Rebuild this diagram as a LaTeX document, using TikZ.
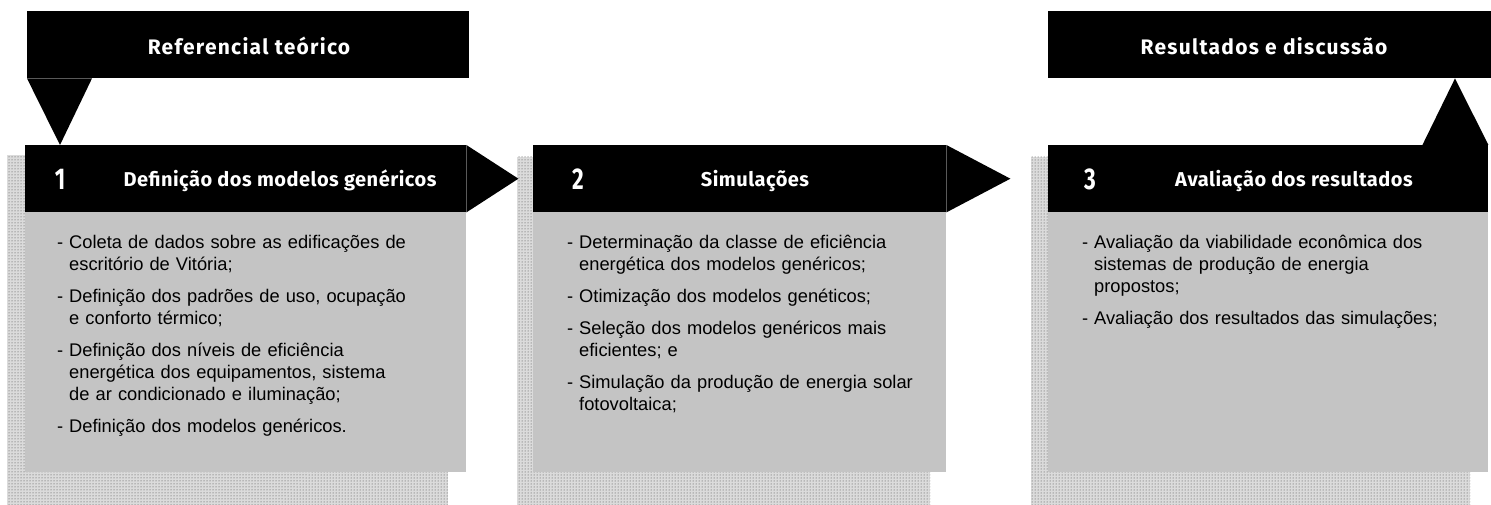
\documentclass[tikz,border=0pt]{standalone}
\usepackage{fontspec}
\setmainfont{Liberation Sans}
\newfontfamily\headfont[LetterSpace=2.5]{Fira Sans}
\newfontfamily\topfont[LetterSpace=6]{Fira Sans}
\newfontfamily\numfont[FakeStretch=0.75]{Fira Sans}
\usepackage{xcolor}
\usepackage{tikz}
\usetikzlibrary{positioning,calc,patterns}
\definecolor{boxgray}{RGB}{196,196,196}
\newcommand{\listitem}[1]{\hangindent=12pt\hangafter=1\noindent\makebox[12pt][l]{\rule{0pt}{16pt}-}#1\par}

\begin{document}
\begin{tikzpicture}[
    x=1pt,y=-1pt,
    headbar/.style={fill=black,minimum height=67pt,inner sep=0pt,anchor=north west},
    bodybox/.style={fill=boxgray,minimum height=260pt,inner sep=0pt,anchor=north west},
    shadow/.style={fill=black!14,postaction={pattern=dots,pattern color=black!75}},
    toptext/.style={text=white,anchor=base,inner sep=0pt,font=\topfont\bfseries\fontsize{21}{24}\selectfont},
    headtext/.style={text=white,anchor=base,inner sep=0pt,font=\headfont\bfseries\fontsize{20}{24}\selectfont},
    stepno/.style={text=white,anchor=base,inner sep=0pt,font=\numfont\bfseries\fontsize{30}{30}\selectfont},
    itemlist/.style={anchor=north west,inner sep=0pt,text width=420pt,align=left,
      font=\fontsize{18.3}{22}\selectfont\setlength{\parskip}{10pt}}
  ]
    \useasboundingbox (0,0) rectangle (1491,505);
    % dotted shadows behind the steps
    \fill[shadow] (7,155) rectangle (448,505);
    \fill[shadow] (517,157) rectangle (930,505);
    \fill[shadow] (1031,157) rectangle (1470,505);
    % grey bodies
    \node[bodybox,minimum width=441pt] (b1) at (25,212) {};
    \node[bodybox,minimum width=413pt] (b2) at (533,212) {};
    \node[bodybox,minimum width=440pt] (b3) at (1048,212) {};
    % black step bars
    \node[headbar,minimum width=441pt] (h1) at (25,145) {};
    \node[headbar,minimum width=413pt] (h2) at (533,145) {};
    \node[headbar,minimum width=440pt] (h3) at (1048,145) {};
    \fill (h1.north east) -- ($(h1.east)+(52,0)$) -- (h1.south east) -- cycle;
    \fill (h2.north east) -- ($(h2.east)+(64,0)$) -- (h2.south east) -- cycle;
    % top bars
    \node[headbar,minimum width=442pt] (ref) at (27,11) {};
    \node[headbar,minimum width=443pt] (res) at (1048,11) {};
    \fill (ref.south west) -- ++(65,0) -- ($(h1.north west)+(35,0)$) -- cycle;
    \fill ($(h3.north east)+(-66,0)$) -- ($(res.south west)+(407,0)$) -- (h3.north east) -- cycle;
    \node[toptext] (reftxt) at (249,55) {Referencial teórico};
    \node[toptext] (restxt) at (1264,55) {Resultados e discussão};
    % step titles
    \node[stepno] (n1) at (60,190) {1};
    \node[stepno] (n2) at (578,190) {2};
    \node[stepno] (n3) at (1090,190) {3};
    \node[headtext] (t1) at (280,187) {Definição dos modelos genéricos};
    \node[headtext] (t2) at (755,187) {Simulações};
    \node[headtext] (t3) at (1294,187) {Avaliação dos resultados};
    % step contents
    \node[itemlist] (l1) at (57,232) {%
      \listitem{Coleta de dados sobre as edificações de\newline escritório de Vitória;}
      \listitem{Definição dos padrões de uso, ocupação\newline e conforto térmico;}
      \listitem{Definição dos níveis de eficiência\newline energética dos equipamentos, sistema\newline de ar condicionado e iluminação;}
      \listitem{Definição dos modelos genéricos.}};
    \node[itemlist] (l2) at (567,232) {%
      \listitem{Determinação da classe de eficiência\newline energética dos modelos genéricos;}
      \listitem{Otimização dos modelos genéticos;}
      \listitem{Seleção dos modelos genéricos mais\newline eficientes; e}
      \listitem{Simulação da produção de energia solar\newline fotovoltaica;}};
    \node[itemlist] (l3) at (1082,232) {%
      \listitem{Avaliação da viabilidade econômica dos\newline sistemas de produção de energia\newline propostos;}
      \listitem{Avaliação dos resultados das simulações;}};
  \end{tikzpicture}
\end{document}
